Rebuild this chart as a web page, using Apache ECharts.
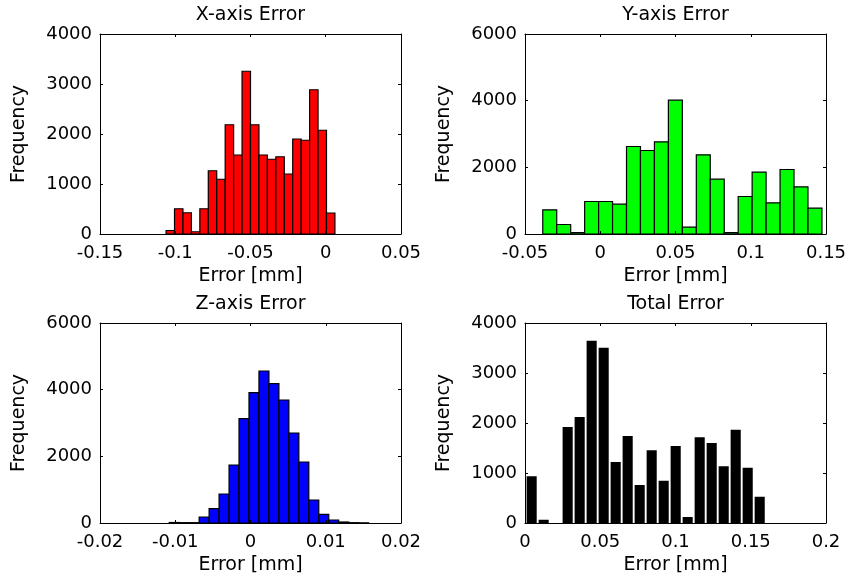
<!DOCTYPE html>
<html>
<head>
<meta charset="utf-8">
<script src="https://cdn.jsdelivr.net/npm/echarts@6/dist/echarts.min.js"></script>
<style>
  html, body { margin: 0; padding: 0; background: #fff; }
</style>
</head>
<body>
<div id="chart" style="width:850px;height:582px;"></div>
<script>
// histogram counts (20 bins each)
const xErrCounts = [70, 505, 425, 45, 505, 1265, 1095, 2185, 1580, 3255, 2185, 1580, 1495, 1545, 1200, 1900, 1875, 2885, 2075, 420];
const xErrRange = [-0.1061, 0.0061];
const xErrTicks = [-0.15, -0.1, -0.05, 0, 0.05];
const xErrYTicks = [0, 1000, 2000, 3000, 4000];

const yErrCounts = [725, 285, 40, 975, 975, 895, 2625, 2505, 2765, 4015, 205, 2375, 1645, 40, 1125, 1855, 935, 1935, 1415, 775];
const yErrRange = [-0.0382, 0.1473];
const yErrTicks = [-0.05, 0, 0.05, 0.1, 0.15];
const yErrYTicks = [0, 2000, 4000, 6000];

const zErrCounts = [15, 10, 10, 180, 430, 870, 1740, 3130, 3910, 4560, 4180, 3690, 2700, 1830, 690, 260, 90, 30, 10, 5];
const zErrRange = [-0.0108, 0.0157];
const zErrTicks = [-0.02, -0.01, 0, 0.01, 0.02];
const zErrYTicks = [0, 2000, 4000, 6000];

const totErrCounts = [935, 65, 0, 1920, 2120, 3645, 3505, 1220, 1740, 760, 1455, 845, 1540, 120, 1715, 1600, 1135, 1865, 1105, 525];
const totErrRange = [0, 0.1595];
const totErrTicks = [0, 0.05, 0.1, 0.15, 0.2];
const totErrYTicks = [0, 1000, 2000, 3000, 4000];

const FONT = 'DejaVu Sans';

const panels = [
  { title: 'X-axis Error', counts: xErrCounts, range: xErrRange, xt: xErrTicks, yt: xErrYTicks, fill: '#ff0000', left: 100, top: 34, gap: false },
  { title: 'Y-axis Error', counts: yErrCounts, range: yErrRange, xt: yErrTicks, yt: yErrYTicks, fill: '#00ff00', left: 525, top: 34, gap: false },
  { title: 'Z-axis Error', counts: zErrCounts, range: zErrRange, xt: zErrTicks, yt: zErrYTicks, fill: '#0000ff', left: 100, top: 323, gap: false },
  { title: 'Total Error', counts: totErrCounts, range: totErrRange, xt: totErrTicks, yt: totErrYTicks, fill: '#000000', left: 525, top: 323, gap: true }
];
const W = 301, H = 200;

// bin edges -> [lo, hi, count]
function binData(counts, range) {
  const step = (range[1] - range[0]) / counts.length;
  return counts.map((c, i) => [range[0] + i * step, range[0] + (i + 1) * step, c]);
}

const lineStyle = { color: '#000', width: 1 };
const axisLine = { show: true, onZero: false, lineStyle };
const axisTick = { show: true, inside: true, length: 3, lineStyle };
const grid = [], xAxis = [], yAxis = [], series = [], title = [];

panels.forEach((p, i) => {
  grid.push({ left: p.left, top: p.top, width: W, height: H });
  title.push({
    text: p.title, left: p.left + W / 2, top: p.top - 28, textAlign: 'center', padding: 0,
    textStyle: { fontFamily: FONT, fontSize: 19, fontWeight: 'normal', color: '#000' }
  });
  const xmin = p.xt[0], xmax = p.xt[p.xt.length - 1], xint = p.xt[1] - p.xt[0];
  const ymax = p.yt[p.yt.length - 1], yint = p.yt[1] - p.yt[0];
  // bottom x axis with labels
  xAxis.push({
    gridIndex: i, type: 'value', min: xmin, max: xmax, interval: xint, position: 'bottom',
    name: 'Error [mm]', nameLocation: 'middle', nameGap: 33,
    nameTextStyle: { fontFamily: FONT, fontSize: 19, color: '#000' },
    axisLine, axisTick,
    axisLabel: { fontFamily: FONT, fontSize: 18, color: '#000', margin: 10, formatter: v => String(+v.toFixed(4)) },
    splitLine: { show: false }, z: 5
  });
  // top x axis, box edge only
  xAxis.push({
    gridIndex: i, type: 'value', min: xmin, max: xmax, interval: xint, position: 'top',
    axisLine, axisTick,
    axisLabel: { show: false }, splitLine: { show: false }, z: 5
  });
  yAxis.push({
    gridIndex: i, type: 'value', min: 0, max: ymax, interval: yint, position: 'left',
    name: 'Frequency', nameLocation: 'middle', nameGap: 71,
    nameTextStyle: { fontFamily: FONT, fontSize: 19, color: '#000' },
    axisLine, axisTick,
    axisLabel: { fontFamily: FONT, fontSize: 18, color: '#000', margin: 8, formatter: v => String(v) },
    splitLine: { show: false }, z: 5
  });
  yAxis.push({
    gridIndex: i, type: 'value', min: 0, max: ymax, interval: yint, position: 'right',
    axisLine, axisTick,
    axisLabel: { show: false }, splitLine: { show: false }, z: 5
  });
  series.push({
    type: 'custom',
    xAxisIndex: i * 2, yAxisIndex: i * 2,
    data: binData(p.counts, p.range),
    renderItem: function (params, api) {
      const a = api.coord([api.value(0), api.value(2)]);
      const b = api.coord([api.value(1), 0]);
      if (p.gap) {
        // black bars drawn slightly narrower, leaving a thin white gap
        return {
          type: 'rect',
          shape: { x: a[0] + 1.6, y: a[1], width: b[0] - a[0] - 1.9, height: b[1] - a[1] },
          style: { fill: p.fill }
        };
      }
      return {
        type: 'rect',
        shape: { x: a[0], y: a[1], width: b[0] - a[0], height: b[1] - a[1] },
        style: { fill: p.fill, stroke: '#000', lineWidth: 1.2 }
      };
    },
    z: 2
  });
});

const chart = echarts.init(document.getElementById('chart'), null, { renderer: 'canvas' });
chart.setOption({
  animation: false,
  backgroundColor: '#fff',
  title, grid, xAxis, yAxis, series
});
</script>
</body>
</html>
